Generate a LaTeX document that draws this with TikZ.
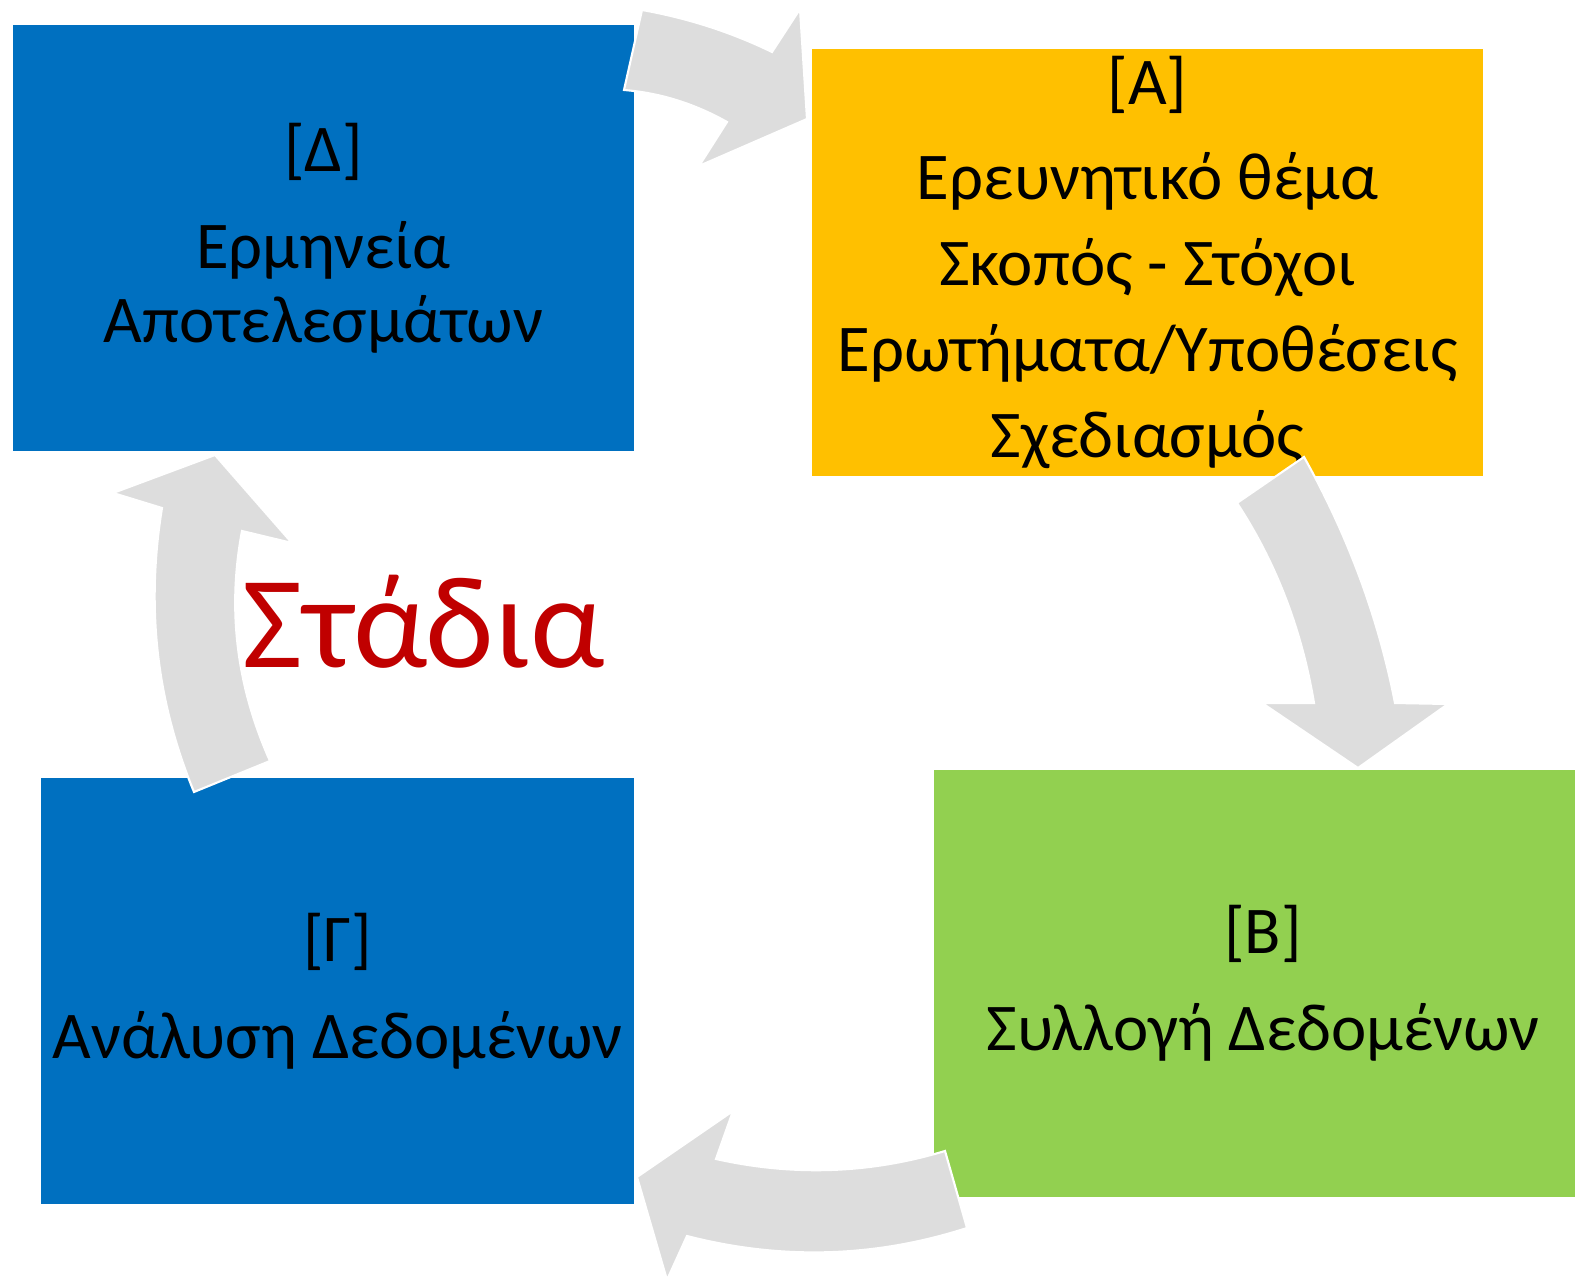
\documentclass[tikz,border=0pt]{standalone}
\usepackage{fontspec}
\setmainfont{Carlito}
\usetikzlibrary{calc}
\definecolor{deltablue}{HTML}{0070C0}
\definecolor{alphayellow}{HTML}{FFC000}
\definecolor{betagreen}{HTML}{92D050}
\definecolor{arrowgray}{HTML}{DDDDDD}
\definecolor{titlered}{HTML}{C00000}
\tikzset{
%Define style for the stage boxes
stagebox/.style={rectangle, inner sep=0pt, align=center, minimum height=4.26cm, font=\fontsize{19}{21}\selectfont},
%Define style for the curved cycle arrows
cyclearrow/.style={fill=arrowgray, draw=white, line width=0.6pt, line join=miter},
}

\begin{document}
\begin{tikzpicture}[x=0.01cm, y=-0.01cm]
    \useasboundingbox (0,0) rectangle (1575,1280);
    % Stages
    \node[stagebox, fill=deltablue, minimum width=6.21cm] (delta) at (323.5,238) {[Δ]\\[6.5pt]Ερμηνεία\\Αποτελεσμάτων};
    \node[stagebox, fill=alphayellow, minimum width=6.71cm] (alpha) at (1147.5,262.5) {[Α]\\[6pt]Ερευνητικό θέμα\\[3.5pt]Σκοπός - Στόχοι\\[3.5pt]Ερωτήματα/Υποθέσεις\\[3.5pt]Σχεδιασμός};
    \node[stagebox, fill=betagreen, minimum width=6.58cm] (beta) at (1263,983.5) {[Β]\\[6.5pt]Συλλογή Δεδομένων};
    \node[stagebox, fill=deltablue, minimum width=5.93cm] (gamma) at (337.5,991) {[Γ]\\[6.5pt]Ανάλυση Δεδομένων};
    % Cycle arrows
    \draw[cyclearrow] (642,10) .. controls (687,18) and (731,32) .. (772,52) -- (800,9) -- (807,119) -- (699,166) -- (727,122) .. controls (695,104) and (661,93) .. (624,90) -- cycle;
    \draw[cyclearrow] (1304,457) .. controls (1347,534) and (1378,616) .. (1395,703) -- (1448,704) -- (1358,768) -- (1262,703) -- (1314,703) .. controls (1302,631) and (1277,564) .. (1237,503) -- cycle;
    \draw[cyclearrow] (967,1228) .. controls (874,1258) and (780,1260) .. (687,1236) -- (667,1280) -- (637,1177) -- (733,1111) -- (716,1159) .. controls (792,1176) and (869,1174) .. (945,1151) -- cycle;
    \draw[cyclearrow] (194,792) .. controls (156,700) and (146,606) .. (162,508) -- (113,493) -- (215,455) -- (292,543) -- (242,531) .. controls (227,611) and (237,687) .. (270,761) -- cycle;
    % Title
    \node[font=\fontsize{37.3}{42}\selectfont, text=titlered, anchor=base] (stages) at (424,668) {Στάδια};
\end{tikzpicture}
\end{document}
